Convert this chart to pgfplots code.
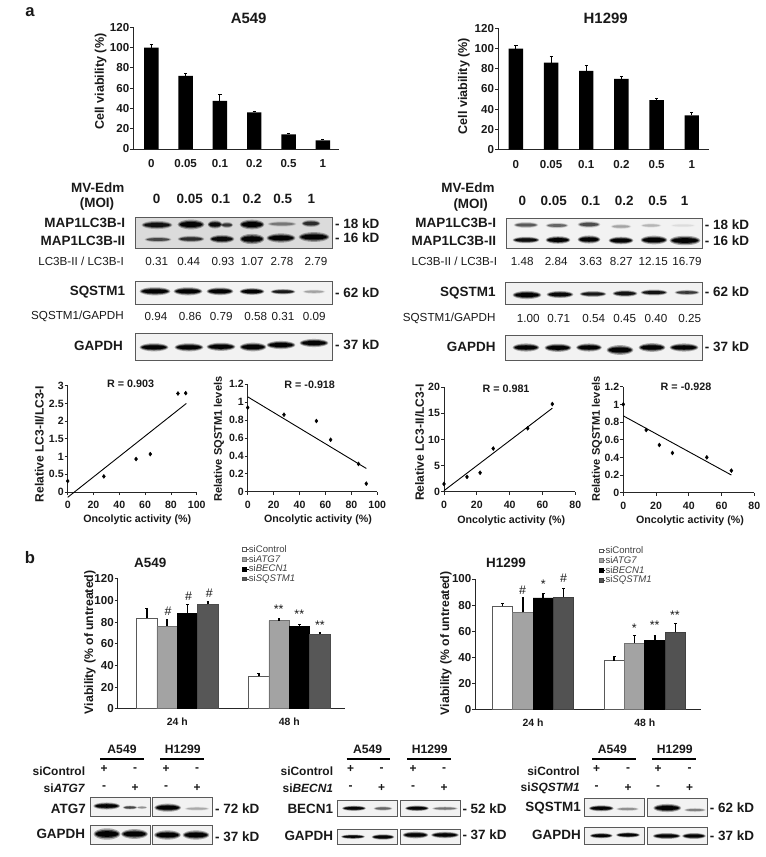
\documentclass[border=0pt]{standalone}
\usepackage{fontspec}
\usepackage{pgfplots}
\pgfplotsset{compat=1.18}
\setmainfont{Liberation Sans}
\newcommand{\fs}[1]{\fontsize{#1}{#1}\selectfont}
\newcommand{\tx}[5]{\node[anchor=#3,inner sep=0pt,font=#4,text=black!90] at (#1,#2) {#5};}
\newcommand{\bx}[4]{\filldraw[fill=black!5,draw=black!65,line width=.8bp] (#1,#2) rectangle (#3,#4);}
% blot band: cx cy half-width half-height strength
\newcommand{\band}[5]{%
  \fill[black,opacity=#5*.30] (#1,#2) ellipse [x radius=#3*1.03, y radius=#4*1.35];
  \fill[black,opacity=#5*.55] (#1,#2) ellipse [x radius=#3*.95, y radius=#4];
  \fill[black,opacity=#5*.95] (#1,#2) ellipse [x radius=#3*.86, y radius=#4*.68];}
\pgfplotsset{
  base/.style={scale only axis, anchor=south west, clip=false,
    axis lines*=left, axis line style={-,black!85,line width=.9bp},
    tick style={black!85,line width=.8bp},
    tick align=outside, major tick length=3bp,
    tick label style={font=\bfseries\fs{11.6},text=black!90},
    /pgf/number format/assume math mode=true,
    xticklabel style={yshift=-1bp},
    yticklabel style={xshift=2.5bp}},
  barA/.style={base, ybar=0pt, bar width=14.4bp, ymin=0, ymax=120,
    ytick={0,20,...,120}, xtick={0,1,2,3,4,5},
    xticklabels={0,0.05,0.1,0.2,0.5,1}, x tick style={draw=none},
    xticklabel style={yshift=-3bp},
    error bars/y dir=plus, error bars/y explicit,
    error bars/error bar style={black,line width=.9bp},
    error bars/error mark options={rotate=90,black,mark size=1.6bp,line width=.8bp}},
  barB/.style={base, ybar=0pt, bar width=20.35bp, ymin=0,
    xtick={1,2}, xticklabels={24 h,48 h}, x tick style={draw=none},
    xticklabel style={yshift=-2bp,font=\bfseries\fs{10.5}},
    error bars/y dir=plus, error bars/y explicit,
    error bars/error bar style={black,line width=1.5bp},
    error bars/error mark options={rotate=90,black,mark size=1.3bp,line width=1.1bp},
    legend cell align=left,
    legend image code/.code={\path (0bp,0bp) -- (6bp,0bp);\fill[##1] (0bp,-1.8bp) rectangle (3.6bp,1.8bp);\draw[##1,line width=.5bp] (0bp,-1.8bp) rectangle (3.6bp,1.8bp);},
    legend style={draw=none,fill=none,inner sep=0pt,outer sep=0pt,anchor=north west,
      font=\fs{9.6},text=black!75,row sep=0.6bp,
      nodes={inner sep=0pt,text height=7.4bp,text depth=1.8bp}}},
  sct/.style={base, ymin=0, xmin=0,
    tick label style={font=\bfseries\fs{10.6},text=black!90},
    xticklabel style={yshift=-2bp}},
  pts/.style={only marks, mark=diamond*, mark size=2bp, black},
  fit/.style={black, line width=.9bp, no marks},
  cW/.style={fill=white,draw=black!65,line width=.7bp},
  cG/.style={fill=black!36,draw=black!55,line width=.7bp},
  cK/.style={fill=black,draw=black,line width=.7bp},
}
\def\BF{\bfseries\fs{12.6}}
\def\BL{\bfseries\fs{13.5}}
\def\RG{\fs{11.7}}
\def\RR{\bfseries\fs{10.8}}
\def\OA{\bfseries\fs{10.7}}
\def\KB{\bfseries\fs{12}}
\def\KL{\bfseries\fs{13.5}}
\newcommand{\kdhead}[8]{% A549 x, H1299 x, line a1 a2 h1 h2 , right, gene
  \tx{#1}{749.3}{center}{\bfseries\fs{12.2}}{A549}
  \tx{#2}{749.3}{center}{\bfseries\fs{12.2}}{H1299}
  \draw[black,line width=1.3bp] (#3,759) -- (#4,759);
  \draw[black,line width=1.3bp] (#5,759) -- (#6,759);
  \tx{#7}{771.7}{east}{\KB}{siControl}
  \tx{#7}{788.3}{east}{\KB}{si\textit{#8}}}
\newcommand{\signs}[4]{%
  \tx{#1}{769.3}{center}{\KB}{+}\tx{#2}{770}{center}{\KB}{-}\tx{#3}{769.3}{center}{\KB}{+}\tx{#4}{770}{center}{\KB}{-}
  \tx{#1}{788}{center}{\KB}{-}\tx{#2}{787.7}{center}{\KB}{+}\tx{#3}{788}{center}{\KB}{-}\tx{#4}{787.7}{center}{\KB}{+}}
\begin{document}
\begin{tikzpicture}
\path[use as bounding box] (0bp,0bp) rectangle (766bp,-857bp);

% ---- a: viability bars
\begin{axis}[barA, at={(133.3bp,-149bp)}, width=205.7bp, height=121.7bp, xmin=-0.525, xmax=5.47]
\addplot[fill=black,draw=none] coordinates {(0,100) +- (0,2.7) (1,72) +- (0,2.6) (2,47.5) +- (0,6.5) (3,36) +- (0,1.5) (4,14.5) +- (0,1) (5,8.5) +- (0,1)};
\end{axis}
\begin{axis}[barA, at={(498bp,-149.7bp)}, width=211bp, height=121.4bp, xmin=-0.51, xmax=5.49]
\addplot[fill=black,draw=none] coordinates {(0,100) +- (0,3) (1,86) +- (0,6.7) (2,78) +- (0,5) (3,70) +- (0,2.6) (4,49) +- (0,1.5) (5,34) +- (0,2.6)};
\end{axis}

% ---- a: correlation plots
\begin{axis}[sct, at={(67.7bp,-492bp)}, width=129bp, height=106.3bp, xmax=100, ymax=3,
  xtick={0,20,...,100}, ytick={0,0.5,1,1.5,2,2.5,3}, yticklabels={0,0.5,1,1.5,2,2.5,3}]
\addplot[pts] coordinates {(0,0.31) (28,0.44) (53,0.93) (64,1.07) (85.5,2.78) (91.5,2.79)};
\addplot[fit] coordinates {(0,-0.15) (92,2.5)};
\end{axis}
\begin{axis}[sct, at={(247.7bp,-491.7bp)}, width=129.6bp, height=107.4bp, xmax=100, ymax=1.2,
  xtick={0,20,...,100}, ytick={0,0.2,0.4,0.6,0.8,1,1.2}, yticklabels={0,0.2,0.4,0.6,0.8,1,1.2}]
\addplot[pts] coordinates {(0,0.94) (28,0.86) (53,0.79) (64,0.58) (85.5,0.31) (91.5,0.09)};
\addplot[fit] coordinates {(0,1.06) (91.5,0.26)};
\end{axis}
\begin{axis}[sct, at={(444bp,-491.7bp)}, width=131.3bp, height=104.4bp, xmax=80, ymax=20,
  xtick={0,20,40,60,80}, ytick={0,5,10,15,20}]
\addplot[pts] coordinates {(0,1.48) (14,2.84) (22,3.63) (30,8.27) (51,12.15) (66,16.79)};
\addplot[fit] coordinates {(0,0.2) (66,16)};
\end{axis}
\begin{axis}[sct, at={(623.3bp,-492.7bp)}, width=131bp, height=106bp, xmax=80, ymax=1.2,
  xtick={0,20,40,60,80}, ytick={0,0.2,0.4,0.6,0.8,1,1.2}, yticklabels={0,0.2,0.4,0.6,0.8,1,1.2}]
\addplot[pts] coordinates {(0,1) (14,0.71) (22,0.54) (30,0.45) (51,0.40) (66,0.25)};
\addplot[fit] coordinates {(0,0.87) (66,0.2)};
\end{axis}

% ---- b: siRNA bars
\begin{axis}[barB, at={(117.7bp,-708.7bp)}, width=227.3bp, height=130bp, xmin=0.468, xmax=2.497,
  ymax=120, ytick={0,20,...,120},
  legend style={at={(0.5480,1.260)}}]
\addplot[cW] coordinates {(1,83.4) +- (0,9.2) (2,29.8) +- (0,2.5)};
\addplot[cG] coordinates {(1,76) +- (0,6) (2,81.2) +- (0,1.8)};
\addplot[cK] coordinates {(1,88) +- (0,8.6) (2,75.7) +- (0,1.8)};
\addplot[fill=black!66,draw=black!70,line width=.7bp] coordinates {(1,96.3) +- (0,2.2) (2,68.6) +- (0,1.9)};
\legend{siControl,si\textit{ATG7},si\textit{BECN1},si\textit{SQSTM1}}
\end{axis}
\begin{axis}[barB, at={(475.3bp,-709.7bp)}, width=225.4bp, height=130.7bp, xmin=0.483, xmax=2.501,
  ymax=100, ytick={0,20,...,100},
  legend style={at={(0.5480,1.252)}}]
\addplot[cW] coordinates {(1,79) +- (0,2.4) (2,37.5) +- (0,3.5)};
\addplot[cG] coordinates {(1,74.5) +- (0,11.2) (2,50.8) +- (0,5.8)};
\addplot[cK] coordinates {(1,85.5) +- (0,3.5) (2,52.8) +- (0,3.8)};
\addplot[fill=black!68,draw=black!75,line width=.7bp] coordinates {(1,86) +- (0,7) (2,59.2) +- (0,7.1)};
\legend{siControl,si\textit{ATG7},si\textit{BECN1},si\textit{SQSTM1}}
\end{axis}

\begin{scope}[x=1bp,y=-1bp]
% panel letters, titles, axis labels
\tx{30}{12}{center}{\bfseries\fs{16.7}}{a}
\tx{30}{558}{center}{\bfseries\fs{16.7}}{b}
\tx{248.7}{18}{center}{\bfseries\fs{15}}{A549}
\tx{605.7}{18}{center}{\bfseries\fs{15}}{H1299}
\node[rotate=90,inner sep=0pt,font=\BF,text=black!90] at (100.7,81.7) {Cell viability (\%)};
\node[rotate=90,inner sep=0pt,font=\BF,text=black!90] at (464,86) {Cell viability (\%)};

% ---- blots A549
\tx{97.7}{187.7}{center}{\BL}{MV-Edm}
\tx{97}{204.3}{center}{\BL}{(MOI)}
\foreach \x/\t in {156.7/0,189.7/0.05,220.7/0.1,252/0.2,282.7/0.5,311.3/1} {\tx{\x}{199.3}{center}{\BL}{\t}}
\filldraw[fill=black!14,draw=black!65,line width=.8bp] (135,217.7) rectangle (332,248.3);
\band{157}{225}{15}{3}{.85}\band{191}{224.5}{13}{3.6}{1}\band{215}{224.5}{7}{3}{.9}\band{227}{225}{6}{2.2}{.6}\band{252}{224.5}{12}{3.6}{1}
\band{282}{224}{14}{2}{.3}\band{311}{223.5}{9}{2.6}{.65}
\band{158}{239.5}{13}{2}{.5}\band{191}{239}{13}{2.4}{.65}\band{222}{239}{12}{3}{.9}\band{252}{239}{12}{3.8}{1}\band{281}{238}{14}{3.4}{1}\band{314}{237}{15}{3.6}{1}
\tx{125.3}{223.3}{east}{\BL}{MAP1LC3B-I}
\tx{125.3}{240.7}{east}{\BL}{MAP1LC3B-II}
\tx{335}{223.3}{west}{\BL}{- 18 kD}
\tx{335}{237.7}{west}{\BL}{- 16 kD}
\tx{124}{261}{east}{\RG}{LC3B-II / LC3B-I}
\foreach \x/\t in {156.7/0.31,188.7/0.44,223/0.93,252.3/1.07,282/2.78,316/2.79} {\tx{\x}{261}{center}{\RG}{\t}}
\bx{135}{281.3}{332}{304}
\band{155}{291.3}{15}{3}{1}\band{188}{291.3}{14}{3}{1}\band{220}{291.3}{13}{2.8}{1}\band{252}{291.5}{12}{2.5}{1}\band{283}{291.7}{12}{2}{.8}\band{314}{291.7}{11}{1.6}{.2}
\tx{125.3}{292.3}{east}{\BL}{SQSTM1}
\tx{335}{292.3}{west}{\BL}{- 62 kD}
\tx{124}{316}{east}{\RG}{SQSTM1/GAPDH}
\foreach \x/\t in {156/0.94,190.3/0.86,221.3/0.79,255.7/0.58,283/0.31,314.3/0.09} {\tx{\x}{316}{center}{\RG}{\t}}
\bx{135}{333.3}{332}{360.3}
\band{154}{347.3}{14}{3}{1}\band{189}{347.3}{14}{3}{1}\band{221}{346.8}{14}{3}{1}\band{253}{347}{13}{3.2}{1}\band{281}{345}{14}{3}{1}\band{314}{343}{14}{3}{1}
\tx{123}{346}{east}{\BL}{GAPDH}
\tx{335}{345}{west}{\BL}{- 37 kD}

% ---- blots H1299
\tx{468}{187.7}{center}{\BL}{MV-Edm}
\tx{470.7}{205}{center}{\BL}{(MOI)}
\foreach \x/\t in {522.3/0,553.7/0.05,590.7/0.1,624.3/0.2,657.7/0.5,684.7/1} {\tx{\x}{200.7}{center}{\BL}{\t}}
\bx{506.3}{218}{702}{248.3}
\band{526}{225}{12}{2.2}{.45}\band{557}{225.5}{11}{2}{.4}\band{589}{224.5}{11}{2.4}{.5}\band{621}{226.5}{10}{1.8}{.2}\band{651}{225.5}{10}{1.6}{.15}\band{683}{225.5}{12}{1.4}{.05}
\band{526}{240}{13}{2.4}{.9}\band{558}{240}{12}{2.8}{1}\band{589}{239.5}{11}{3}{1}\band{621}{240.5}{12}{2.8}{1}\band{654}{240}{13}{3.2}{1}\band{685}{240.5}{15}{3.5}{1}
\tx{496.3}{223.3}{east}{\BL}{MAP1LC3B-I}
\tx{496.3}{241}{east}{\BL}{MAP1LC3B-II}
\tx{704.7}{224.3}{west}{\BL}{- 18 kD}
\tx{704.7}{241}{west}{\BL}{- 16 kD}
\tx{497.3}{261}{east}{\RG}{LC3B-II / LC3B-I}
\foreach \x/\t in {522.3/1.48,556.3/2.84,590.7/3.63,621.3/8.27,653.3/12.15,687/16.79} {\tx{\x}{261}{center}{\RG}{\t}}
\bx{505.3}{282.7}{702.3}{304}
\band{527}{295}{14}{3}{1}\band{560}{294.5}{13}{2.6}{.95}\band{593}{294}{13}{2.2}{.8}\band{625}{293.5}{12}{2.4}{.85}\band{654}{292.5}{13}{2.2}{.85}\band{687}{292.5}{12}{1.9}{.6}
\tx{495.7}{292.7}{east}{\BL}{SQSTM1}
\tx{704.7}{291.7}{west}{\BL}{- 62 kD}
\tx{495.7}{318.7}{east}{\RG}{SQSTM1/GAPDH}
\foreach \x/\t in {528.3/1.00,558.7/0.71,593.7/0.54,624.7/0.45,656/0.40,689.7/0.25} {\tx{\x}{318.7}{center}{\RG}{\t}}
\bx{505.3}{335}{702.3}{360.7}
\band{526}{347.5}{13}{3}{1}\band{558}{347.8}{13}{3}{1}\band{589}{347.5}{12.5}{3}{1}\band{620}{350}{13}{3.6}{1}\band{652}{347.5}{13}{3.2}{1}\band{684}{347.5}{14}{3}{1}
\tx{495.7}{346.7}{east}{\BL}{GAPDH}
\tx{704.7}{346.7}{west}{\BL}{- 37 kD}

% ---- correlation texts
\tx{130.7}{384}{center}{\RR}{R = 0.903}
\tx{309.7}{384.7}{center}{\RR}{R = -0.918}
\tx{506}{388.3}{center}{\RR}{R = 0.981}
\tx{686}{387}{center}{\RR}{R = -0.928}
\tx{137.3}{519.3}{center}{\OA}{Oncolytic activity (\%)}
\tx{318}{519.3}{center}{\OA}{Oncolytic activity (\%)}
\tx{511.3}{520.7}{center}{\OA}{Oncolytic activity (\%)}
\tx{690}{520.7}{center}{\OA}{Oncolytic activity (\%)}
\node[rotate=90,inner sep=0pt,font=\bfseries\fs{12.1},text=black!90] at (39.3,444) {Relative LC3-II/LC3-I};
\node[rotate=90,inner sep=0pt,font=\bfseries\fs{11.1},text=black!90] at (219,439) {Relative SQSTM1 levels};
\node[rotate=90,inner sep=0pt,font=\bfseries\fs{12.1},text=black!90] at (419.7,442.7) {Relative LC3-II/LC3-I};
\node[rotate=90,inner sep=0pt,font=\bfseries\fs{11.1},text=black!90] at (597,439) {Relative SQSTM1 levels};

% ---- b texts
\tx{150.3}{563.3}{center}{\bfseries\fs{13.5}}{A549}
\tx{506}{563.3}{center}{\bfseries\fs{13.5}}{H1299}
\node[rotate=90,inner sep=0pt,font=\bfseries\fs{12.3},text=black!90] at (90,642.3) {Viability (\% of untreated)};
\node[rotate=90,inner sep=0pt,font=\bfseries\fs{12.3},text=black!90] at (446,643.3) {Viability (\% of untreated)};
\foreach \x/\y/\t in {168/611.7/\#,188.7/596.7/\#,209.3/593.3/\#,278.7/609.5/**,299.3/613.9/**,320/625.5/**,
   522.7/590/\#,543.3/584/*,563.7/578.7/\#,634.3/628/*,654.7/625/**,675/615.2/**}
  {\tx{\x}{\y}{center}{\fs{12.5}}{\t}}

% ---- knock-down blots
\kdhead{122}{182.7}{100}{144}{160}{204}{85.3}{ATG7}
\signs{104}{135}{166}{197}
\bx{90}{797.7}{150}{816.7}\bx{152.7}{797.7}{212.3}{816.7}
\band{106.7}{806}{13}{2.6}{1}\band{130}{807.5}{7}{1.5}{.55}\band{142}{807.5}{5}{1.2}{.25}\band{167.7}{807.7}{13}{3}{1}\band{197}{808.7}{12}{1.5}{.18}
\tx{86}{808.7}{east}{\KL}{ATG7}\tx{215}{808.7}{west}{\KL}{- 72 kD}
\bx{90}{825.3}{150}{844.3}\bx{152.7}{825.3}{212.3}{844.3}
\band{107}{834}{13}{4.2}{1}\band{134.5}{834}{13}{3.6}{1}\band{167.5}{835}{13}{3.4}{1}\band{196}{835}{13}{3.4}{1}
\tx{85.3}{833.7}{east}{\KL}{GAPDH}\tx{215}{836.3}{west}{\KL}{- 37 kD}

\kdhead{367.7}{429.7}{346.7}{390.3}{407}{450.7}{333.3}{BECN1}
\signs{350.7}{381.7}{413}{444}
\bx{337.7}{800.7}{397}{816.7}\bx{400.3}{800.7}{460.3}{816.7}
\band{354}{808.3}{11.5}{1.9}{1}\band{383}{808.5}{9}{1.6}{.4}\band{417}{808.3}{11.5}{2}{1}\band{445}{808.5}{12.5}{1.5}{.35}
\tx{333.3}{809}{east}{\KL}{BECN1}\tx{462.3}{808.3}{west}{\KL}{- 52 kD}
\bx{337.7}{829.3}{397}{844.3}\bx{400.3}{829.3}{460.3}{844.3}
\band{353}{836.7}{11.5}{1.6}{1}\band{383}{837}{11}{2}{1}\band{415.5}{835}{12.5}{2.5}{1}\band{445}{835}{13.5}{2.3}{1}
\tx{333.3}{836}{east}{\KL}{GAPDH}\tx{462.3}{835}{west}{\KL}{- 37 kD}

\kdhead{612.3}{674.7}{592}{635.7}{652.3}{695.7}{580}{SQSTM1}
\signs{596.7}{628}{658}{689.7}
\bx{584.3}{798.7}{644}{816.7}\bx{647.3}{798.7}{707.3}{816.7}
\band{601.3}{808.3}{12}{2.2}{1}\band{627.5}{809}{11}{1.5}{.25}\band{667.3}{808}{13.5}{3}{1}\band{695}{810}{10.5}{1.5}{.3}
\tx{581}{808.3}{east}{\KL}{SQSTM1}\tx{709.7}{807.7}{west}{\KL}{- 62 kD}
\bx{584.3}{827.7}{644}{844.3}\bx{647.3}{827.7}{707.3}{844.3}
\band{601.3}{835.7}{11}{1.9}{1}\band{628}{835}{11.5}{1.9}{1}\band{666.7}{836}{13.5}{2.2}{1}\band{694}{836}{11.5}{2.2}{1}
\tx{581}{835}{east}{\KL}{GAPDH}\tx{709.7}{835.7}{west}{\KL}{- 37 kD}
\end{scope}
\end{tikzpicture}
\end{document}
